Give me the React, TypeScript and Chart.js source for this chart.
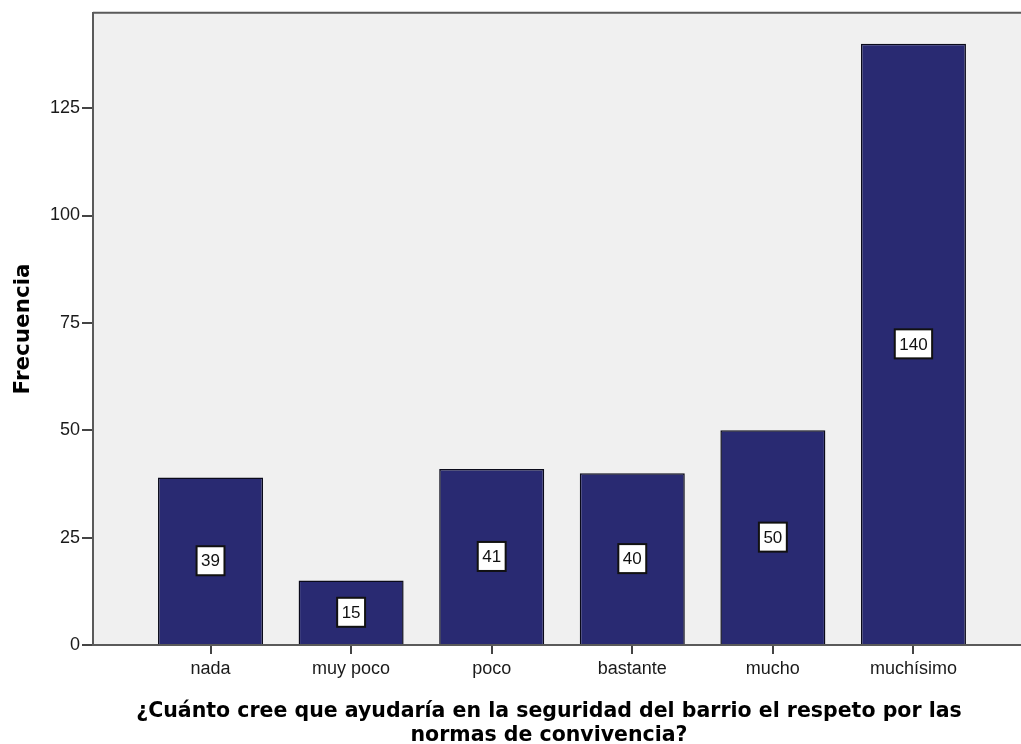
import React, { useEffect, useRef } from "react";
import { Chart, registerables } from "chart.js";

Chart.register(...registerables);

const categories = ["nada", "muy poco", "poco", "bastante", "mucho", "muchísimo"];
const frequencies = [39, 15, 41, 40, 50, 140];
const yTickValues = [0, 25, 50, 75, 100, 125];
const yAxisTitle = "Frecuencia";
const xAxisTitle = [
  "¿Cuánto cree que ayudaría en la seguridad del barrio el respeto por las",
  "normas de convivencia?",
];

const plotBgPlugin = {
  id: "plotBg",
  beforeDraw(chart: any) {
    const { ctx, chartArea } = chart;
    ctx.save();
    ctx.fillStyle = "#f0f0f0";
    ctx.fillRect(chartArea.left, chartArea.top, chartArea.right - chartArea.left, chartArea.bottom - chartArea.top);
    ctx.restore();
  },
  afterDraw(chart: any) {
    const { ctx, chartArea } = chart;
    ctx.save();
    ctx.strokeStyle = "#5a5a5a";
    ctx.lineWidth = 2;
    ctx.beginPath();
    ctx.moveTo(chartArea.left, chartArea.top);
    ctx.lineTo(chartArea.right, chartArea.top);
    ctx.stroke();
    // x axis title
    ctx.fillStyle = "#000";
    ctx.font = "bold 20.5px 'DejaVu Sans'";
    ctx.textAlign = "center";
    ctx.textBaseline = "alphabetic";
    ctx.fillText(xAxisTitle[0], 549, 716.5);
    ctx.fillText(xAxisTitle[1], 549, 741);
    ctx.restore();
  },
};

const valueLabelPlugin = {
  id: "valueLabels",
  afterDatasetsDraw(chart: any) {
    const { ctx } = chart;
    const meta = chart.getDatasetMeta(0);
    ctx.save();
    ctx.font = "17px 'Liberation Sans'";
    ctx.textAlign = "center";
    ctx.textBaseline = "middle";
    meta.data.forEach((bar: any, i: number) => {
      const text = String(frequencies[i]);
      const cx = bar.x;
      const cy = (bar.y + bar.base) / 2;
      const w = ctx.measureText(text).width + 9;
      const h = 29;
      ctx.fillStyle = "#ffffff";
      ctx.fillRect(cx - w / 2, cy - h / 2, w, h);
      ctx.strokeStyle = "#111111";
      ctx.lineWidth = 2;
      ctx.strokeRect(cx - w / 2, cy - h / 2, w, h);
      ctx.fillStyle = "#111111";
      ctx.fillText(text, cx, cy + 1);
    });
    ctx.restore();
  },
};

export default function App() {
  const canvasRef = useRef<HTMLCanvasElement | null>(null);

  useEffect(() => {
    document.body.style.margin = "0";
    const canvas = canvasRef.current;
    if (!canvas) return;
    const chart = new Chart(canvas, {
      type: "bar",
      data: {
        datasets: [
          {
            data: frequencies.map((v, i) => ({ x: i, y: v })),
            backgroundColor: "#292a72",
            borderColor: "#0a0a1a",
            borderWidth: 1.5,
            barPercentage: 1,
            categoryPercentage: 0.747,
          },
        ],
      },
      options: {
        animation: false,
        responsive: false,
        maintainAspectRatio: false,
        layout: { padding: { top: 9, right: 0, left: 0, bottom: 0 } },
        plugins: {
          legend: { display: false },
          tooltip: { enabled: false },
        },
        scales: {
          x: {
            type: "linear",
            offset: false,
            min: -0.836,
            max: 5.765,
            afterBuildTicks: (scale: any) => {
              scale.ticks = categories.map((_, i) => ({ value: i }));
            },
            afterFit: (scale: any) => {
              scale.height = 99;
            },
            ticks: {
              autoSkip: false,
              maxRotation: 0,
              padding: 4,
              color: "#1a1a1a",
              font: { family: "'Liberation Sans'", size: 18 },
              callback: (value: any) => categories[value as number] ?? "",
            },
            grid: {
              offset: false,
              drawOnChartArea: false,
              drawTicks: true,
              tickLength: 9,
              color: "#444444",
              lineWidth: 2,
            },
            border: { color: "#5a5a5a", width: 2 },
          },
          y: {
            type: "linear",
            min: 0,
            max: 147.2,
            afterBuildTicks: (scale: any) => {
              scale.ticks = yTickValues.map((v) => ({ value: v }));
            },
            afterFit: (scale: any) => {
              scale.width = 93;
            },
            ticks: {
              padding: 2,
              color: "#1a1a1a",
              font: { family: "'Liberation Sans'", size: 18 },
            },
            grid: {
              drawOnChartArea: false,
              drawTicks: true,
              tickLength: 11,
              color: "#444444",
              lineWidth: 2,
            },
            border: { color: "#5a5a5a", width: 2 },
            title: {
              display: true,
              text: yAxisTitle,
              color: "#000",
              font: { family: "'DejaVu Sans'", size: 21.5, weight: "bold" },
              padding: { top: 11, bottom: 0 },
            },
          },
        },
      },
      plugins: [plotBgPlugin, valueLabelPlugin],
    });
    return () => chart.destroy();
  }, []);

  return (
    <div style={{ width: 1021, height: 744 }}>
      <canvas ref={canvasRef} width={1021} height={744} style={{ display: "block" }} />
    </div>
  );
}
